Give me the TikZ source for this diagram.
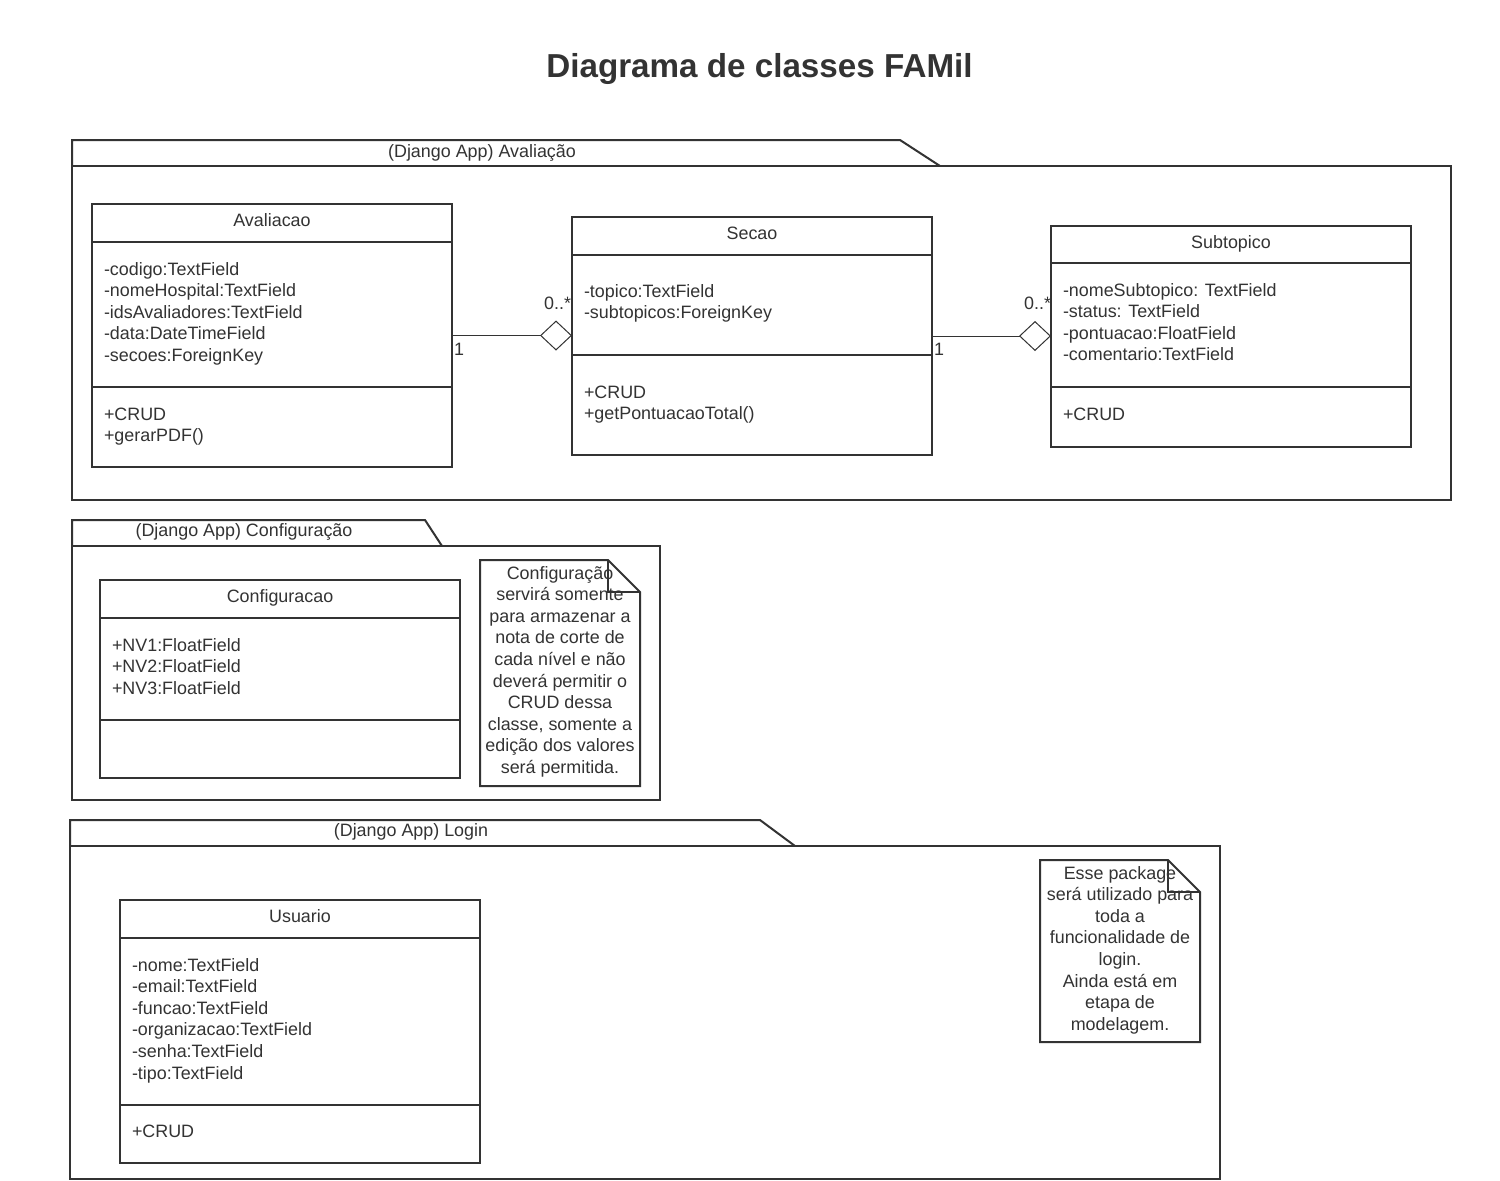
\documentclass[tikz,border=0pt]{standalone}
\usepackage{fontspec}
\setmainfont{Liberation Sans}
\usetikzlibrary{arrows.meta}
\definecolor{ink}{HTML}{333333}
\begin{document}
\begin{tikzpicture}[x=0.5pt,y=-0.5pt,
  every node/.style={inner sep=0pt,outer sep=0pt,text=ink},
  txt/.style={font=\fontsize{8.95}{10.8}\selectfont},
  multi/.style={txt,align=left,anchor=base west},
  cname/.style={txt,anchor=base},
  cls/.style={draw=ink,line width=1pt,fill=white,anchor=north west},
  divider/.style={draw=ink,line width=1pt},
  pkg/.style={draw=ink,line width=1pt},
  notebox/.style={draw=ink,line width=1pt,fill=white},
  notetext/.style={txt,align=center,anchor=base},
  assoc/.style={draw=ink,line width=0.5pt,-{Diamond[open,length=16pt,width=15pt,line width=0.5pt]}},
  mult/.style={txt}
]
\useasboundingbox (0,0) rectangle (1500,1180);
\fill[white] (0,0) rectangle (1500,1180);

% title
\node[font=\fontsize{16.6}{20}\selectfont\bfseries,anchor=base] (title) at (759.5,77) {Diagrama de classes FAMil};

% ---------------- package Avaliacao
\draw[pkg] (72,166) -- (72,140) -- (900,140) -- (940,166);
\draw[pkg] (72,166) rectangle (1451,500);
\node[cname] (pkgA) at (482,157) {(Django App) Avaliação};

% Avaliacao class
\node[cls,minimum width=180pt,minimum height=131.5pt] (aval) at (92,204) {};
\draw[divider] (92,242) -- (452,242);
\draw[divider] (92,387) -- (452,387);
\node[cname] (avalN) at (272,226) {Avaliacao};
\node[multi] (avalA) at (104,361.4) {-codigo:TextField\\-nomeHospital:TextField\\-idsAvaliadores:TextField\\-data:DateTimeField\\-secoes:ForeignKey};
\node[multi] (avalM) at (104,441.6) {+CRUD\\+gerarPDF()};

% Secao class
\node[cls,minimum width=180pt,minimum height=119pt] (secao) at (572,217) {};
\draw[divider] (572,255) -- (932,255);
\draw[divider] (572,355) -- (932,355);
\node[cname] (secaoN) at (752,239) {Secao};
\node[multi] (secaoA) at (584,318.6) {-topico:TextField\\-subtopicos:ForeignKey};
\node[multi] (secaoM) at (584,419.6) {+CRUD\\+getPontuacaoTotal()};

% Subtopico class
\node[cls,minimum width=180pt,minimum height=110.5pt] (sub) at (1051,226) {};
\draw[divider] (1051,263) -- (1411,263);
\draw[divider] (1051,387) -- (1411,387);
\node[cname] (subN) at (1231,248) {Subtopico};
\node[multi] (subA) at (1063,360.8) {-nomeSubtopico: TextField\\-status: TextField\\-pontuacao:FloatField\\-comentario:TextField};
\node[multi] (subM) at (1063,420) {+CRUD};

% associations
\draw[assoc] (aval.east) -- (aval.east -| secao.west);
\draw[assoc] (secao.east) -- (secao.east -| sub.west);
\node[mult,anchor=base west] (m1a) at (454,355) {1};
\node[mult,anchor=base east] (m1b) at (571,309) {0..*};
\node[mult,anchor=base west] (m2a) at (934,355) {1};
\node[mult,anchor=base east] (m2b) at (1051,309) {0..*};

% ---------------- package Configuracao
\draw[pkg] (72,546) -- (72,520) -- (425,520) -- (442,546);
\draw[pkg] (72,546) rectangle (660,800);
\node[cname] (pkgC) at (244,536) {(Django App) Configuração};

\node[cls,minimum width=180pt,minimum height=99pt] (conf) at (100,580) {};
\draw[divider] (100,618) -- (460,618);
\draw[divider] (100,720) -- (460,720);
\node[cname] (confN) at (280,602) {Configuracao};
\node[multi] (confA) at (112,694.2) {+NV1:FloatField\\+NV2:FloatField\\+NV3:FloatField};

% note 1
\draw[notebox] (480,560) -- (608,560) -- (640,592) -- (640,786) -- (480,786) -- cycle;
\draw[ink,line width=1pt] (608,560) -- (608,592) -- (640,592);
\node[notetext] (note1) at (560,773.4) {Configuração\\servirá somente\\para armazenar a\\nota de corte de\\cada nível e não\\deverá permitir o\\CRUD dessa\\classe, somente a\\edição dos valores\\será permitida.};

% ---------------- package Login
\draw[pkg] (70,846) -- (70,820) -- (760,820) -- (795,846);
\draw[pkg] (70,846) rectangle (1220,1179);
\node[cname] (pkgL) at (411,836) {(Django App) Login};

\node[cls,minimum width=180pt,minimum height=131.5pt] (usr) at (120,900) {};
\draw[divider] (120,938) -- (480,938);
\draw[divider] (120,1105) -- (480,1105);
\node[cname] (usrN) at (300,922) {Usuario};
\node[multi] (usrA) at (132,1079) {-nome:TextField\\-email:TextField\\-funcao:TextField\\-organizacao:TextField\\-senha:TextField\\-tipo:TextField};
\node[multi] (usrM) at (132,1137) {+CRUD};

% note 2
\draw[notebox] (1040,860) -- (1168,860) -- (1200,892) -- (1200,1042) -- (1040,1042) -- cycle;
\draw[ink,line width=1pt] (1168,860) -- (1168,892) -- (1200,892);
\node[notetext] (note2) at (1120,1030.2) {Esse package\\será utilizado para\\toda a\\funcionalidade de\\login.\\Ainda está em\\etapa de\\modelagem.};
\end{tikzpicture}
\end{document}
